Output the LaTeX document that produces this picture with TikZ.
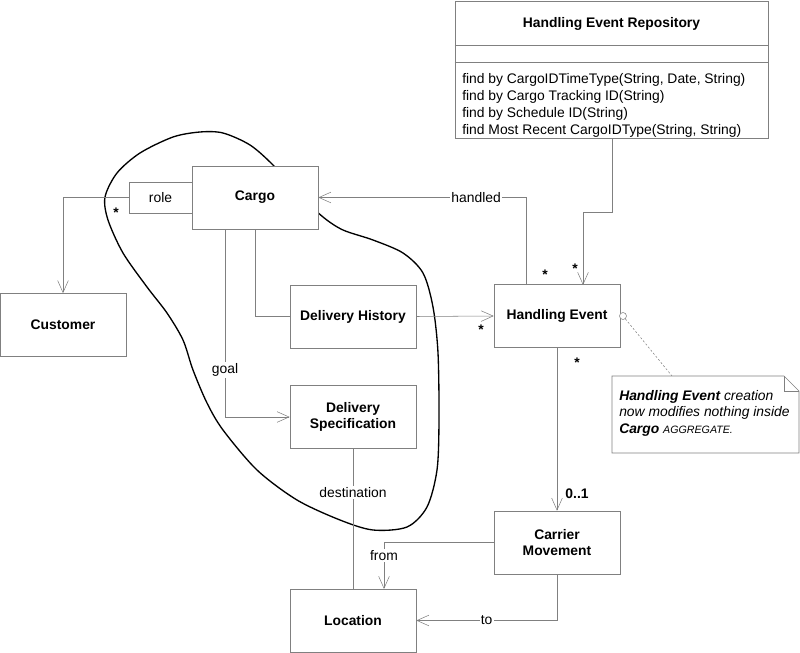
\documentclass[tikz,border=0pt]{standalone}
\usepackage{fontspec}
\setmainfont{Liberation Sans}
\usetikzlibrary{arrows.meta}
\definecolor{linegray}{RGB}{128,128,128}
\tikzset{
  cls/.style={draw=linegray, fill=white, minimum width=94.5pt, minimum height=47.25pt, inner sep=2pt, align=center, font=\fontsize{10.4}{12}\selectfont\bfseries},
  rolebox/.style={draw=linegray, fill=white, minimum width=47.25pt, minimum height=23.25pt},
  assoc/.style={draw=linegray, -{Straight Barb[length=9pt,width=8pt]}},
  link/.style={draw=linegray},
  lbl/.style={fill=white, inner sep=1pt},
  mult/.style={font=\fontsize{10.4}{12}\selectfont\bfseries}
}

\begin{document}
\begin{tikzpicture}[x=0.75pt, y=-0.75pt, font=\fontsize{10.4}{12.75}\selectfont]
\useasboundingbox (0,0) rectangle (800,653);
% aggregate boundary
\draw[line width=1pt] plot[smooth cycle, tension=0.5] coordinates {(273,165) (250,145) (223,133) (200,132) (173,137) (140,153) (117,173) (105,197) (108,220) (123,253) (147,287) (167,313) (183,340) (193,370) (207,403) (223,430) (257,470) (297,500) (340,520) (373,530) (407,527) (427,507) (437,470) (439,420) (438,353) (433,307) (423,273) (403,253) (373,240) (343,230) (323,217) (300,195)};

% classes
\node (cargo) [cls] at (255,197.5) {Cargo};
\node (role) [rolebox] at (160.5,197.5) {role};
\node (customer) [cls] at (63,325) {Customer};
\node (history) [cls] at (353,316.5) {Delivery History};
\node (spec) [cls] at (353,417) {Delivery\\Specification};
\node (loc) [cls] at (353,620.5) {Location};
\node (he) [cls] at (557,316) {Handling Event};
\node (cm) [cls] at (557,542.5) {Carrier\\Movement};

% repository
\node (repo) [draw=linegray, fill=white, minimum width=234.75pt, minimum height=102.75pt] at (611.5,69.5) {};
\draw[linegray] (repo.west |- 0,45) -- (repo.east |- 0,45);
\draw[linegray] (repo.west |- 0,62) -- (repo.east |- 0,62);
\node (repoName) [font=\fontsize{10.4}{12}\selectfont\bfseries] at (611.5,24) {Handling Event Repository};
\node (repoOps) [anchor=north west, align=left, inner sep=0] at (462,73) {find by CargoIDTimeType(String, Date, String)\\find by Cargo Tracking ID(String)\\find by Schedule ID(String)\\find Most Recent CargoIDType(String, String)};

% associations
\draw[assoc] (role.west) -| (customer.north);
\draw[link] (cargo.south) |- (history.west);
\coordinate (goalTop) at (225,229);
\draw[assoc] (goalTop) |- node[lbl, pos=.375] {goal} (spec.west);
\draw[assoc] (history.east) -- (he.west);
\coordinate (handledFoot) at (526,285);
\draw[assoc] (handledFoot) |- node[lbl, pos=.62] {handled} (cargo.east);
\coordinate (repoFoot) at (612,138);
\coordinate (repoBend) at (612,212);
\coordinate (heTop) at (583,285);
\draw[assoc] (repoFoot) -- (repoBend) -| (heTop);
\draw[assoc] (he.south) -- (cm.north);
\draw[link] (spec.south) -- node[lbl, pos=.31] {destination} (loc.north);
\coordinate (fromFoot) at (384,589);
\draw[assoc] (cm.west) -| node[lbl, pos=.64] {from} (fromFoot);
\draw[assoc] (cm.south) |- node[lbl, pos=.75] {to} (loc.east);

% multiplicities
\node (mRole) [mult] at (116,213) {*};
\node (mHandled) [mult] at (545,275) {*};
\node (mRepo) [mult] at (575,269) {*};
\node (mHistory) [mult] at (481,330) {*};
\node (mMove) [mult] at (577,363) {*};
\node (mCarrier) [mult] at (577,494) {0..1};

% note
\node (anchorDot) [circle, draw=linegray, fill=white, minimum size=5.25pt, inner sep=0] at (623,316) {};
\coordinate (noteTop) at (672,376);
\draw[linegray, dash pattern=on 1.5pt off 1.5pt] (anchorDot) -- (noteTop);
\draw[linegray, fill=white] (612,376) -- (784,376) -- (799,391) -- (799,453) -- (612,453) -- cycle;
\draw[linegray] (784,376) -- (784,391) -- (799,391);
\node (noteText) [anchor=north west, align=left, inner sep=0, font=\fontsize{10.4}{12.5}\selectfont\itshape] at (619,390) {\textbf{Handling Event} creation\\now modifies nothing inside\\\textbf{Cargo} {\fontsize{8}{10}\selectfont AGGREGATE.}};
\end{tikzpicture}
\end{document}
